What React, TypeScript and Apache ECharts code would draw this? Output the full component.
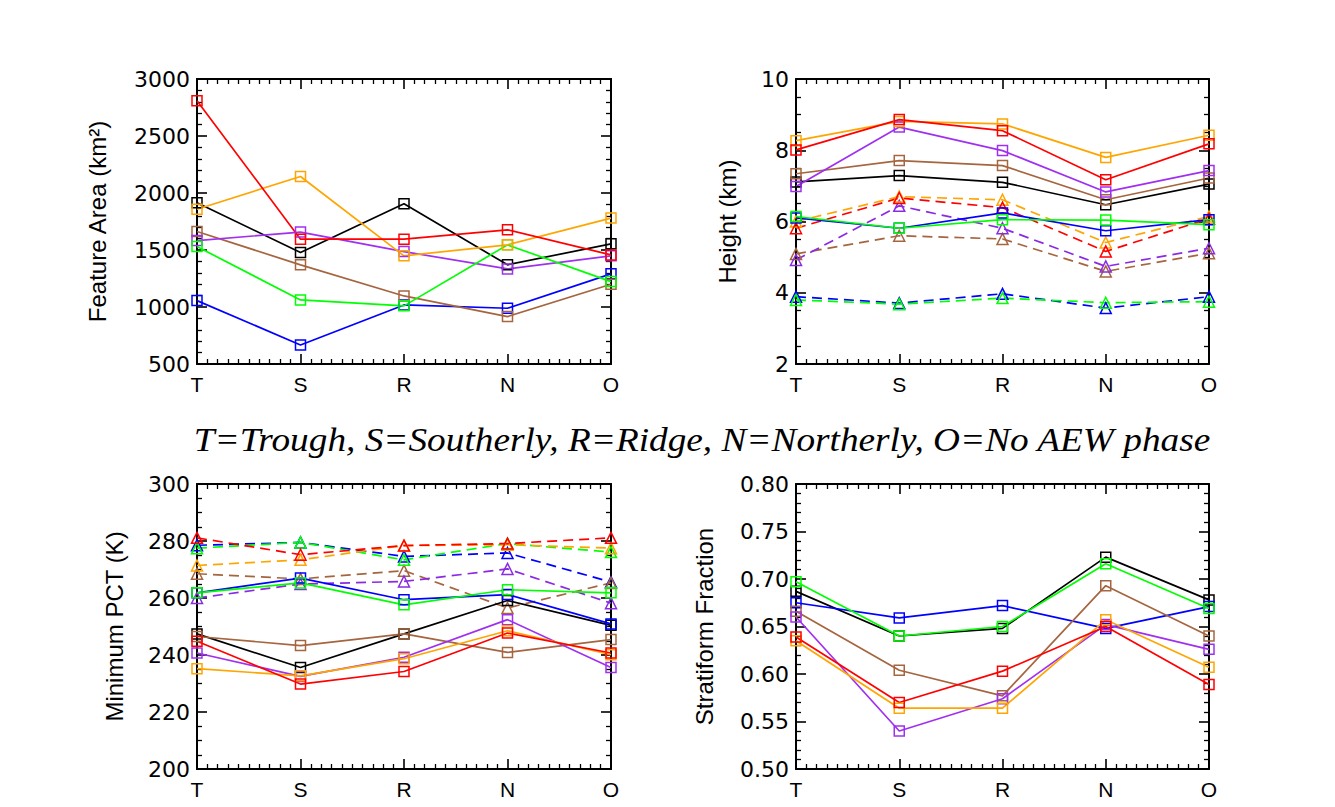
import React, { useEffect, useRef } from "react";
import * as echarts from "echarts";

// ---------- data ----------
const categories = ["T", "S", "R", "N", "O"];

const colorNames = ["black", "blue", "brown", "purple", "green", "orange", "red"];

// Feature Area (km^2) – solid lines with squares
const areaBlack = [1915, 1478, 1905, 1370, 1554];
const areaBlue = [1056, 667, 1018, 989, 1291];
const areaBrown = [1662, 1370, 1097, 916, 1200];
const areaPurple = [1583, 1657, 1486, 1334, 1449];
const areaGreen = [1530, 1062, 1010, 1545, 1223];
const areaOrange = [1858, 2145, 1449, 1545, 1780];
const areaRed = [2810, 1595, 1595, 1677, 1457];

// Height (km) – solid lines with squares
const hBlack = [7.11, 7.29, 7.1, 6.47, 7.05];
const hBlue = [6.1, 5.81, 6.24, 5.74, 6.05];
const hBrown = [7.34, 7.71, 7.57, 6.61, 7.22];
const hPurple = [6.98, 8.65, 7.99, 6.83, 7.43];
const hGreen = [6.14, 5.81, 6.05, 6.04, 5.91];
const hOrange = [8.27, 8.81, 8.74, 7.8, 8.42];
const hRed = [8.01, 8.86, 8.55, 7.17, 8.18];
// Height (km) – dashed lines with triangles
const hBlueD = [3.89, 3.71, 3.97, 3.57, 3.89];
const hBrownD = [5.09, 5.6, 5.51, 4.6, 5.11];
const hPurpleD = [4.92, 6.44, 5.81, 4.74, 5.25];
const hGreenD = [3.8, 3.68, 3.85, 3.72, 3.75];
const hOrangeD = [6.0, 6.7, 6.61, 5.41, 6.14];
const hRedD = [5.81, 6.66, 6.39, 5.16, 6.08];

// Minimum PCT (K) – solid lines with squares
const pBlack = [247.4, 235.6, 247.4, 259.1, 250.4];
const pBlue = [261.8, 267.0, 259.4, 261.2, 250.9];
const pBrown = [246.5, 243.3, 247.4, 240.9, 245.4];
const pPurple = [240.7, 232.5, 239.2, 252.4, 235.6];
const pGreen = [261.8, 265.3, 257.6, 262.9, 261.8];
const pOrange = [235.2, 232.7, 238.7, 248.5, 240.1];
const pRed = [244.8, 229.8, 234.2, 247.7, 240.7];
// Minimum PCT (K) – dashed lines with triangles
const pBlueD = [278.5, 279.5, 274.6, 275.8, 265.6];
const pBrownD = [268.5, 266.7, 269.6, 256.5, 265.3];
const pPurpleD = [260.0, 264.9, 265.8, 270.2, 258.2];
const pGreenD = [277.5, 279.5, 273.4, 279.1, 276.1];
const pOrangeD = [271.4, 273.4, 278.4, 278.7, 277.5];
const pRedD = [281.1, 275.2, 278.4, 279.1, 281.1];

// Stratiform Fraction – solid lines with squares
const sBlack = [0.687, 0.64, 0.648, 0.723, 0.678];
const sBlue = [0.675, 0.659, 0.672, 0.648, 0.671];
const sBrown = [0.666, 0.604, 0.577, 0.693, 0.64];
const sPurple = [0.66, 0.54, 0.574, 0.652, 0.626];
const sGreen = [0.697, 0.64, 0.65, 0.716, 0.669];
const sOrange = [0.635, 0.564, 0.564, 0.657, 0.607];
const sRed = [0.639, 0.57, 0.603, 0.65, 0.589];

const titleText = "T=Trough, S=Southerly, R=Ridge, N=Northerly, O=No AEW phase";

// ---------- styling ----------
const COLORS: Record<string, string> = {
  black: "#000000",
  blue: "#0000FF",
  brown: "#A5653F",
  purple: "#A030F0",
  green: "#00FF00",
  orange: "#FFA500",
  red: "#FF0000",
};
const DASH_COLORS: Record<string, string> = {
  ...COLORS,
  purple: "#8A2BE2",
};

type Panel = {
  name: string;
  min: number;
  max: number;
  interval: number;
  minorSplit: number;
  nameGap: number;
  fmt: (v: number) => string;
  grid: { left: number; top: number; width: number; height: number };
  solid: Record<string, number[]>;
  dashed: Record<string, number[]>;
};

const panels: Panel[] = [
  {
    name: "Feature Area (km²)",
    min: 500,
    max: 3000,
    interval: 500,
    minorSplit: 5,
    nameGap: 88,
    fmt: (v) => String(v),
    grid: { left: 197, top: 79, width: 414, height: 285 },
    solid: { black: areaBlack, blue: areaBlue, brown: areaBrown, purple: areaPurple, green: areaGreen, orange: areaOrange, red: areaRed },
    dashed: {},
  },
  {
    name: "Height (km)",
    min: 2,
    max: 10,
    interval: 2,
    minorSplit: 4,
    nameGap: 57,
    fmt: (v) => String(v),
    grid: { left: 796, top: 79, width: 413, height: 285 },
    solid: { black: hBlack, blue: hBlue, brown: hBrown, purple: hPurple, green: hGreen, orange: hOrange, red: hRed },
    dashed: { blue: hBlueD, brown: hBrownD, purple: hPurpleD, green: hGreenD, orange: hOrangeD, red: hRedD },
  },
  {
    name: "Minimum PCT (K)",
    min: 200,
    max: 300,
    interval: 20,
    minorSplit: 4,
    nameGap: 71,
    fmt: (v) => String(v),
    grid: { left: 197, top: 484, width: 414, height: 285 },
    solid: { black: pBlack, blue: pBlue, brown: pBrown, purple: pPurple, green: pGreen, orange: pOrange, red: pRed },
    dashed: { blue: pBlueD, brown: pBrownD, purple: pPurpleD, green: pGreenD, orange: pOrangeD, red: pRedD },
  },
  {
    name: "Stratiform Fraction",
    min: 0.5,
    max: 0.8,
    interval: 0.05,
    minorSplit: 5,
    nameGap: 80,
    fmt: (v) => v.toFixed(2),
    grid: { left: 796, top: 484, width: 413, height: 285 },
    solid: { black: sBlack, blue: sBlue, brown: sBrown, purple: sPurple, green: sGreen, orange: sOrange, red: sRed },
    dashed: {},
  },
];

const TICK_FONT = "DejaVu Sans";
const NAME_FONT = "Liberation Sans";

function buildOption() {
  const grid: any[] = [];
  const xAxis: any[] = [];
  const yAxis: any[] = [];
  const series: any[] = [];

  panels.forEach((p, k) => {
    grid.push({ ...p.grid, containLabel: false });
    const axisLine = { show: true, onZero: false, lineStyle: { color: "#000", width: 2 } };
    const axisTick = { show: true, inside: true, length: 10, lineStyle: { color: "#000", width: 1.6 } };
    const minorTickX = { show: true, splitNumber: 10, length: 5, lineStyle: { color: "#000", width: 1.3 } };
    const minorTickY = { show: true, splitNumber: p.minorSplit, length: 5, lineStyle: { color: "#000", width: 1.3 } };
    const xBase = {
      type: "value",
      gridIndex: k,
      min: 0,
      max: categories.length - 1,
      interval: 1,
      axisLine,
      axisTick,
      minorTick: minorTickX,
      splitLine: { show: false },
      minorSplitLine: { show: false },
    };
    xAxis.push({
      ...xBase,
      position: "bottom",
      axisLabel: {
        show: true,
        formatter: (v: number) => categories[Math.round(v)] ?? "",
        fontSize: 21,
        fontFamily: NAME_FONT,
        color: "#000",
        margin: 10,
      },
    });
    xAxis.push({ ...xBase, position: "top", axisLabel: { show: false } });

    const yBase = {
      type: "value",
      gridIndex: k,
      min: p.min,
      max: p.max,
      interval: p.interval,
      axisLine,
      axisTick,
      minorTick: minorTickY,
      splitLine: { show: false },
      minorSplitLine: { show: false },
    };
    yAxis.push({
      ...yBase,
      position: "left",
      name: p.name,
      nameLocation: "middle",
      nameGap: p.nameGap,
      nameTextStyle: { fontSize: 24, fontFamily: NAME_FONT, color: "#000" },
      axisLabel: {
        show: true,
        formatter: p.fmt,
        fontSize: 22,
        fontFamily: TICK_FONT,
        color: "#000",
        margin: 7,
      },
    });
    yAxis.push({ ...yBase, position: "right", axisLabel: { show: false } });

    const addSeries = (key: string, vals: number[], dashed: boolean) => {
      const c = dashed ? DASH_COLORS[key] : COLORS[key];
      series.push({
        type: "line",
        name: `${p.name} ${key}${dashed ? " dashed" : ""}`,
        xAxisIndex: 2 * k,
        yAxisIndex: 2 * k,
        data: vals.map((v, i) => [i, v]),
        symbol: dashed ? "triangle" : "rect",
        symbolSize: dashed ? 11 : 10,
        showAllSymbol: true,
        clip: false,
        lineStyle: { color: c, width: 1.7, type: dashed ? [10, 6] : "solid" },
        itemStyle: { color: "rgba(0,0,0,0)", borderColor: c, borderWidth: 1.5, borderType: "solid" },
        emphasis: { disabled: true },
        z: dashed ? 2 : 3,
      });
    };
    colorNames.forEach((key) => {
      if (p.dashed[key]) addSeries(key, p.dashed[key], true);
    });
    colorNames.forEach((key) => {
      if (p.solid[key]) addSeries(key, p.solid[key], false);
    });
  });

  return {
    animation: false,
    backgroundColor: "#ffffff",
    grid,
    xAxis,
    yAxis,
    series,
    graphic: [
      {
        type: "text",
        x: 702,
        y: 440,
        scaleX: 1.13,
        style: {
          text: titleText,
          fontSize: 33,
          fontFamily: "Liberation Serif",
          fontStyle: "italic",
          fill: "#000",
          align: "center",
          verticalAlign: "middle",
        },
      },
    ],
  };
}

export default function App() {
  const ref = useRef<HTMLDivElement>(null);
  useEffect(() => {
    if (!ref.current) return;
    const chart = echarts.init(ref.current, undefined, { renderer: "svg" });
    chart.setOption(buildOption() as any);
    return () => chart.dispose();
  }, []);
  return (
    <div
      ref={ref}
      style={{ position: "fixed", left: 0, top: 0, width: 1335, height: 807, background: "#fff" }}
    />
  );
}
